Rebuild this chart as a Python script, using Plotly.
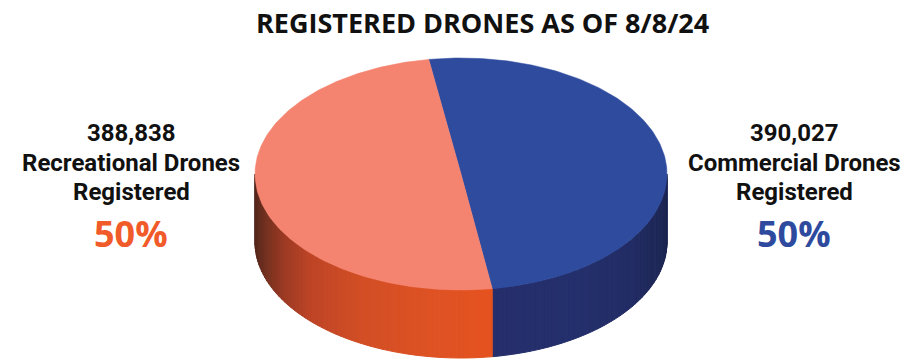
import numpy as np
import plotly.graph_objects as go

# ---- data ----
categories = ["Commercial Drones", "Recreational Drones"]
counts = [390027, 388838]
title_text = "REGISTERED DRONES AS OF 8/8/24"

# ---- style ----
W, H = 906, 360
CX, CY, RX, RY, DEPTH = 461, 174, 206, 116, 68
START_DEG = -9.0
TOP_COLORS = ["#2E4B9E", "#F4836F"]
PCT_COLORS = ["#2E4A9E", "#F15A29"]
FONT = "Roboto, sans-serif"
TFONT = "Open Sans"

total = sum(counts)
fracs = [c / total for c in counts]

def pt(theta_deg, dy=0.0):
    t = np.radians(theta_deg)
    return CX + RX * np.sin(t), CY - RY * np.cos(t) + dy

def hexrgb(h):
    h = h.lstrip("#")
    return np.array([int(h[i:i + 2], 16) for i in (0, 2, 4)], float)

def interp_color(stops, x):
    xs = [s[0] for s in stops]
    cols = [hexrgb(s[1]) for s in stops]
    r = [np.interp(x, xs, [c[k] for c in cols]) for k in range(3)]
    return "rgb(%d,%d,%d)" % tuple(int(round(v)) for v in r)

side_stops = [
    [(494, "#262E6C"), (580, "#24306C"), (630, "#222C64"), (655, "#1F2859"), (667, "#1B2550")],
    [(494, "#E5521F"), (430, "#DE5224"), (360, "#D24E25"), (310, "#BE4426"),
     (285, "#9E3A24"), (265, "#73301F"), (255, "#55261C")],
]
side_stops = [sorted(s) for s in side_stops]

fig = go.Figure()

bounds = []
a = START_DEG
for f in fracs:
    bounds.append((a, a + 360 * f))
    a += 360 * f

for i, (a0, a1) in enumerate(bounds):
    lo, hi = max(a0, 90), min(a1, 270)
    if hi <= lo:
        lo, hi = max(a0 - 360, 90), min(a1 - 360, 270)
    if hi <= lo:
        continue
    n = 60
    edges = np.linspace(lo, hi, n + 1)
    for k in range(n):
        ta = np.linspace(edges[k], edges[k + 1], 4)
        xs, ys = pt(ta)
        xb, yb = pt(ta[::-1], DEPTH)
        px = np.concatenate([xs, xb, xs[:1]])
        py = np.concatenate([ys, yb, ys[:1]])
        col = interp_color(side_stops[i], float(np.mean(xs)))
        fig.add_trace(go.Scatter(x=px, y=py, mode="lines", fill="toself",
                                 fillcolor=col, line=dict(color=col, width=1),
                                 hoverinfo="skip", showlegend=False))

for i, (a0, a1) in enumerate(bounds):
    ta = np.linspace(a0, a1, 200)
    xs, ys = pt(ta)
    px = np.concatenate([[CX], xs, [CX]])
    py = np.concatenate([[CY], ys, [CY]])
    fig.add_trace(go.Scatter(x=px, y=py, mode="lines", fill="toself",
                             fillcolor=TOP_COLORS[i], line=dict(color=TOP_COLORS[i], width=0.5),
                             name=categories[i], hoverinfo="name", showlegend=False))

label_x = [794, 131]
line_y = [133, 163, 192]
pct_y = 233
for i in range(2):
    lines = ["{:,}".format(counts[i]), categories[i], "Registered"]
    for ln, yy in zip(lines, line_y):
        fig.add_annotation(x=label_x[i], y=yy, text="<b>%s</b>" % ln, showarrow=False,
                           font=dict(family=FONT, size=24, color="#111111"),
                           xanchor="center", yanchor="middle")
    fig.add_annotation(x=label_x[i], y=pct_y, text="<b>%d%%</b>" % round(fracs[i] * 100),
                       showarrow=False, font=dict(family=TFONT, size=36, color=PCT_COLORS[i]),
                       xanchor="center", yanchor="middle")

fig.add_annotation(x=482, y=22, text="<b>%s</b>" % title_text, showarrow=False,
                   font=dict(family=TFONT, size=27, color="#111111"),
                   xanchor="center", yanchor="middle")

fig.update_layout(
    width=W, height=H, margin=dict(l=0, r=0, t=0, b=0),
    paper_bgcolor="white", plot_bgcolor="white",
    xaxis=dict(range=[0, W], visible=False, fixedrange=True),
    yaxis=dict(range=[H, 0], visible=False, fixedrange=True),
)
fig.write_html("out.html")
